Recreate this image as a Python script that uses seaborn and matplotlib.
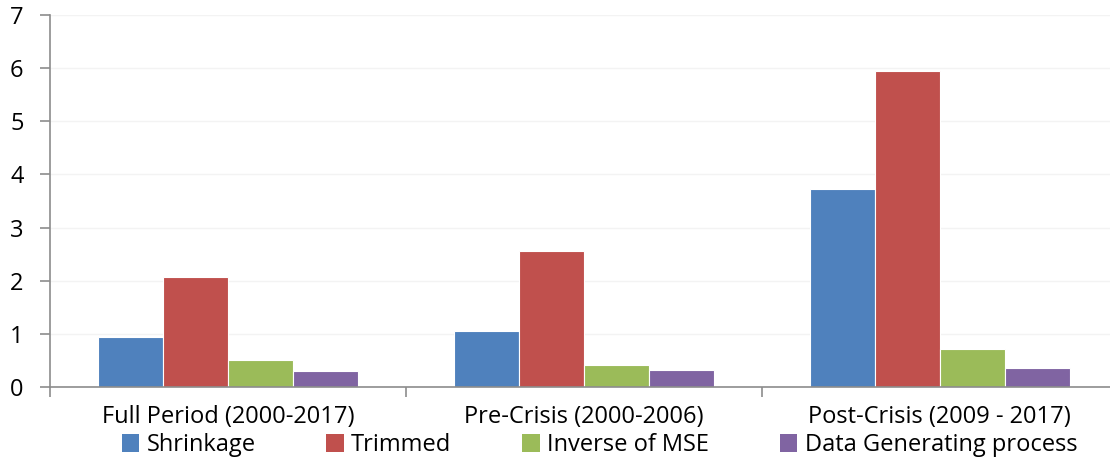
import numpy as np
import pandas as pd
import matplotlib
matplotlib.use('Agg')
import matplotlib.pyplot as plt
import seaborn as sns
from matplotlib.patches import Patch

# values
periods = ['Full Period (2000-2017)', 'Pre-Crisis (2000-2006)', 'Post-Crisis (2009 - 2017)']
methods = ['Shrinkage', 'Trimmed', 'Inverse of MSE', 'Data Generating process']
shrinkage = [0.94, 1.05, 3.73]
trimmed = [2.07, 2.55, 5.95]
inverse_mse = [0.51, 0.41, 0.72]
dgp = [0.30, 0.31, 0.36]
colors = ['#4F81BD', '#C0504D', '#9BBB59', '#8064A2']

df = pd.DataFrame({
    'period': periods * 4,
    'method': np.repeat(methods, 3),
    'value': shrinkage + trimmed + inverse_mse + dgp,
})

sns.set_theme(style='white')
plt.rcParams['font.family'] = ['Open Sans', 'DejaVu Sans']
plt.rcParams['text.color'] = 'black'
plt.rcParams['xtick.color'] = 'black'
plt.rcParams['ytick.color'] = 'black'

fig = plt.figure(figsize=(11.1, 4.59), dpi=100)
ax = fig.add_axes([0.045, 0.157, 0.962, 0.81])

sns.barplot(data=df, x='period', y='value', hue='method', order=periods,
            hue_order=methods, palette=colors, width=0.73, saturation=1,
            edgecolor='white', linewidth=0.8, ax=ax, legend=False)

ax.set_xlim(-0.5, 2.5)
ax.set_ylim(0, 7)
ax.set_yticks(range(0, 8))
ax.yaxis.grid(True, color='#f3f3f3', linewidth=1)
ax.set_axisbelow(True)
ax.set_xlabel('')
ax.set_ylabel('')

for s in ['top', 'right']:
    ax.spines[s].set_visible(False)
for s in ['left', 'bottom']:
    ax.spines[s].set_color('#8c8c8c')
    ax.spines[s].set_linewidth(1.2)

# separator tick marks between groups
ax.set_xticks([-0.5, 0.5, 1.5, 2.5], minor=True)
ax.tick_params(axis='x', which='minor', length=7, color='#8c8c8c', width=1.2, direction='out', bottom=True)
ax.tick_params(axis='x', which='major', length=0, pad=13, labelsize=17)
ax.tick_params(axis='y', length=7, color='#8c8c8c', width=1.2, direction='out', left=True, labelsize=17, pad=12)

handles = [Patch(facecolor=c, edgecolor='none') for c in colors]
fig.legend(handles, methods, loc='center', bbox_to_anchor=(0.54, 0.03), ncol=4,
           frameon=False, fontsize=17, handlelength=0.75, handleheight=0.75,
           handletextpad=0.3, columnspacing=3.0, borderpad=0)

fig.savefig('out.png', dpi=100)
